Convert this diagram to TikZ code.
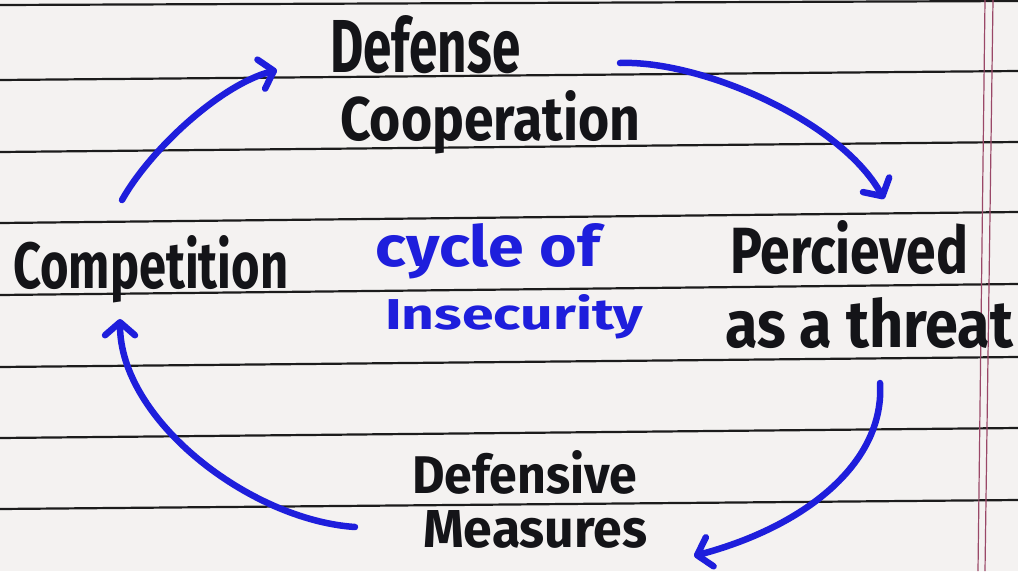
\documentclass[tikz,border=0pt]{standalone}
\usepackage{fontspec}
\setmainfont{Fira Sans}
\usetikzlibrary{arrows.meta}
\definecolor{paper}{HTML}{F4F2F1}
\definecolor{rulecol}{HTML}{1C1C1C}
\definecolor{margincol}{HTML}{9A4868}
\definecolor{ink}{HTML}{141418}
\definecolor{bluink}{HTML}{1E1EDC}
\newcommand{\hwtext}[3]{\resizebox{#1pt}{#2pt}{#3}}
\tikzset{
  ruled/.style={draw=rulecol, line width=2.2pt},
  marginline/.style={draw=margincol, line width=1.2pt},
  label/.style={anchor=base west, inner sep=0pt, text=ink, font=\bfseries},
  bluelabel/.style={anchor=base west, inner sep=0pt, text=bluink, font=\bfseries},
  cyclearrow/.style={draw=bluink, line width=6.5pt, line cap=round,
    -{Straight Barb[length=13pt,width=30pt,line cap=round,line join=round]}},
}
\begin{document}
\begin{tikzpicture}[x=1pt,y=-1pt]
  % paper
  \fill[paper] (0,0) rectangle (1018,571);
  \useasboundingbox (0,0) rectangle (1018,571);
  % ruled lines
  \draw[ruled] (0,5) -- (1018,1);
  \draw[ruled] (0,80) -- (1018,71);
  \draw[ruled] (0,152) -- (1018,142);
  \draw[ruled] (0,223) -- (1018,212);
  \draw[ruled] (0,295) -- (1018,284);
  \draw[ruled] (0,367) -- (1018,357);
  \draw[ruled] (0,438) -- (1018,428);
  \draw[ruled] (0,509) -- (1018,500);
  % margin
  \draw[marginline] (985,0) -- (978,571);
  \draw[marginline] (993,0) -- (985,571);
  % texts
  \node[label] (def) at (330,72) {\hwtext{190}{57}{Defense}};
  \node[label] (coop) at (340,140) {\hwtext{300}{50}{Cooperation}};
  \node[label] (comp) at (13,288) {\hwtext{275}{53}{Competition}};
  \node[label] (perc) at (730,273) {\hwtext{238}{53}{Percieved}};
  \node[label] (threat) at (725,347) {\hwtext{288}{50}{as a threat}};
  \node[label] (defv) at (412,493) {\hwtext{225}{43}{Defensive}};
  \node[label] (meas) at (423,547) {\hwtext{224}{37}{Measures}};
  \node[bluelabel] (cyc) at (375,266) {\hwtext{225}{43}{cycle of}};
  \node[bluelabel] (ins) at (385,329) {\hwtext{258}{35}{Insecurity}};
  % arrow end points
  \coordinate (a1s) at (122,200);
  \coordinate (a1e) at (277,70);
  \coordinate (a2s) at (620,63);
  \coordinate (a2e) at (884,199);
  \coordinate (a3s) at (880,383);
  \coordinate (a3e) at (694,556);
  \coordinate (a4s) at (355,527);
  \coordinate (a4e) at (120,319);
  % arrows
  \draw[cyclearrow] (a1s) .. controls (150,150) and (220,85) .. (a1e);
  \draw[cyclearrow] (a2s) .. controls (700,60) and (840,120) .. (a2e);
  \draw[cyclearrow] (a3s) .. controls (885,460) and (810,525) .. (a3e);
  \draw[cyclearrow] (a4s) .. controls (250,520) and (120,420) .. (a4e);
\end{tikzpicture}
\end{document}
